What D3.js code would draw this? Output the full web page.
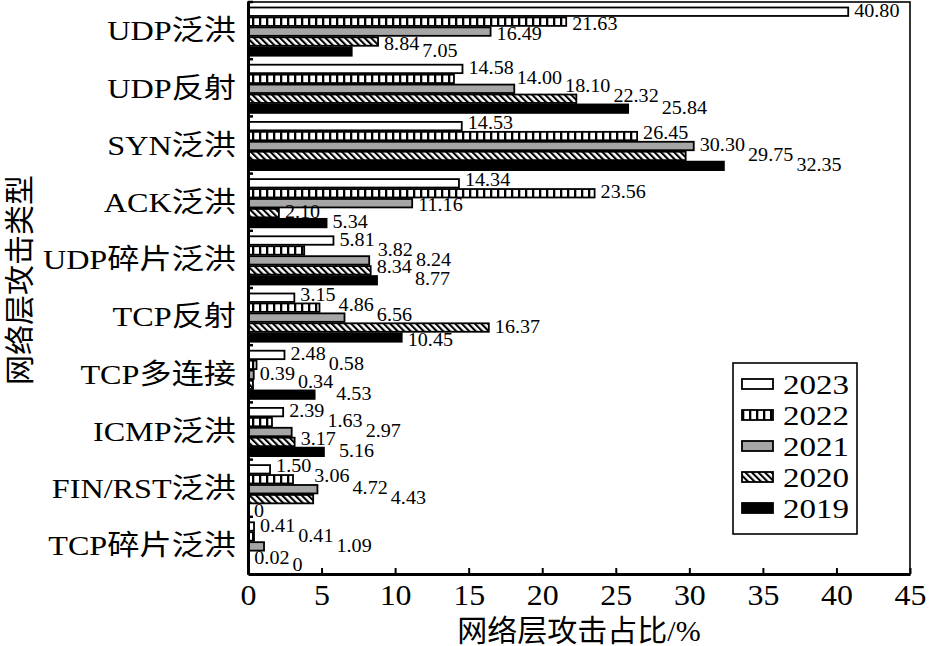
<!DOCTYPE html>
<html>
<head>
<meta charset="utf-8">
<script src="https://cdn.jsdelivr.net/npm/d3@7"></script>
<style>
body { margin: 0; background: #fff; }
text { font-family: "Liberation Serif", "Noto Sans CJK SC", serif; fill: #000; }
</style>
</head>
<body>
<svg id="chart" width="930" height="646"></svg>
<script>
// ---------------- data ----------------
var categories = ['UDP泛洪', 'UDP反射', 'SYN泛洪', 'ACK泛洪', 'UDP碎片泛洪', 'TCP反射', 'TCP多连接', 'ICMP泛洪', 'FIN/RST泛洪', 'TCP碎片泛洪']
var years = ['2023', '2022', '2021', '2020', '2019']
var v2023 = [40.80, 14.58, 14.53, 14.34, 5.81, 3.15, 2.48, 2.39, 1.50, 0.41]
var v2022 = [21.63, 14.00, 26.45, 23.56, 3.82, 4.86, 0.58, 1.63, 3.06, 0.41]
var v2021 = [16.49, 18.10, 30.30, 11.16, 8.24, 6.56, 0.39, 2.97, 4.72, 1.09]
var v2020 = [8.84, 22.32, 29.75, 2.10, 8.34, 16.37, 0.34, 3.17, 4.43, 0.02]
var v2019 = [7.05, 25.84, 32.35, 5.34, 8.77, 10.45, 4.53, 5.16, 0, 0]
var xTicks = [0, 5, 10, 15, 20, 25, 30, 35, 40, 45]
var xTitle = '网络层攻击占比/%'
var yTitle = '网络层攻击类型'

var series = [v2023, v2022, v2021, v2020, v2019]

// ---------------- layout ----------------
var plotL = 248, plotR = 910, plotT = 2, plotB = 574
var svg = d3.select('#chart')

var x = d3.scaleLinear().domain([0, 45]).range([plotL, plotR])
var y = d3.scaleBand().domain(categories).range([plotT, plotB])
var yInner = d3.scaleBand().domain(years).range([5.5, y.bandwidth() - 3.5]).paddingInner(0.15)

var fills = ['#ffffff', 'url(#vstripe)', '#a6a6a6', 'url(#hatch)', '#000000']

// patterns
var defs = svg.append('defs')
var vs = defs.append('pattern').attr('id', 'vstripe')
    .attr('patternUnits', 'userSpaceOnUse').attr('width', 7).attr('height', 10)
vs.append('rect').attr('width', 7).attr('height', 10).attr('fill', '#fff')
vs.append('rect').attr('x', 0).attr('width', 2.3).attr('height', 10).attr('fill', '#000')

var ht = defs.append('pattern').attr('id', 'hatch')
    .attr('patternUnits', 'userSpaceOnUse').attr('width', 4.6).attr('height', 4.6)
    .attr('patternTransform', 'rotate(-45)')
ht.append('rect').attr('width', 4.6).attr('height', 4.6).attr('fill', '#fff')
ht.append('rect').attr('x', 0).attr('width', 2.1).attr('height', 4.6).attr('fill', '#000')

// frame (thin top / right)
svg.append('rect')
    .attr('x', plotL).attr('y', plotT)
    .attr('width', plotR - plotL).attr('height', plotB - plotT)
    .attr('fill', 'none').attr('stroke', '#000').attr('stroke-width', 1.6)

// ---------------- bars ----------------
var rows = []
categories.forEach(function(c, ci) {
    years.forEach(function(yr, yi) {
        rows.push({cat: c, year: yr, yi: yi, value: series[yi][ci]})
    })
})
var barRows = rows.filter(function(d) { return d.value > 0 })

svg.append('g').selectAll('rect')
    .data(barRows)
    .join('rect')
    .attr('x', x(0))
    .attr('y', function(d) { return y(d.cat) + yInner(d.year) })
    .attr('width', function(d) { return x(d.value) - x(0) })
    .attr('height', yInner.bandwidth())
    .attr('fill', function(d) { return fills[d.yi] })
    .attr('stroke', '#000')
    .attr('stroke-width', 1.8)

// ---------------- value labels ----------------
// small vertical nudge away from neighbouring bars, then move right past
// any label that sits too close above
var sxVal = 1.06
var halfH = 6.5
var minGap = 14
var barBoxes = barRows.map(function(d) {
    var yb = y(d.cat) + yInner(d.year)
    return {x0: x(0), x1: x(d.value) + 0.9, y0: yb - 0.9, y1: yb + yInner.bandwidth() + 0.9}
})
var nudges = [0, 2, -2, 3, -3]

function barArea(x0, x1, yc) {
    var s = 0
    barBoxes.forEach(function(r) {
        var w = Math.min(r.x1, x1) - Math.max(r.x0, x0)
        var h = Math.min(r.y1, yc + halfH) - Math.max(r.y0, yc - halfH)
        if (w > 0 && h > 0) s += w * h
    })
    return s
}

var placed = []
var labelG = svg.append('g')
rows.forEach(function(d) {
    var txt = d.value === 0 ? '0' : d.value.toFixed(2)
    var base = y(d.cat) + yInner(d.year) + yInner.bandwidth() / 2 - 1.5
    var t = labelG.append('text')
        .attr('x', 0).attr('y', 0).attr('dy', '0.35em')
        .style('font-size', '19px')
        .text(txt)
    var w = t.node().getComputedTextLength() * sxVal
    var x0 = x(d.value) + 6
    var yc = base
    for (var k = 0; k < 20; k++) {
        var best = Infinity
        nudges.forEach(function(o) {
            var a = barArea(x0 + 1, x0 + w - 1, base + o)
            if (a < best - 0.01) { best = a; yc = base + o }
        })
        var hits = placed.filter(function(p) {
            return Math.abs(p.yc - yc) < minGap && x0 < p.x + p.w + 1 && x0 + w > p.x - 1
        })
        if (hits.length == 0) break
        x0 = d3.max(hits, function(p) { return p.x + p.w }) + 3
    }
    placed.push({x: x0, w: w, yc: yc})
    t.attr('transform', 'translate(' + x0 + ',' + yc + ') scale(' + sxVal + ',1)')
})

// ---------------- axes ----------------
var xAxis = d3.axisBottom(x).tickValues(xTicks).tickSizeInner(-6).tickSizeOuter(0).tickPadding(0)
var gx = svg.append('g').attr('transform', 'translate(0,' + plotB + ')').call(xAxis)
gx.select('.domain').attr('stroke-width', 3)
gx.selectAll('.tick line').attr('stroke-width', 2)
gx.selectAll('.tick text')
    .attr('y', 0).attr('dy', 0)
    .attr('transform', 'translate(0,31) scale(1.1,1)')
    .style('font-family', '"Liberation Serif", serif')
    .style('font-size', '29px')

var yAxis = d3.axisLeft(y).tickSize(0).tickPadding(0)
var gy = svg.append('g').attr('transform', 'translate(' + plotL + ',0)').call(yAxis)
gy.select('.domain').attr('stroke-width', 3)
gy.selectAll('.tick text')
    .attr('x', 0).attr('dy', '0.35em')
    .attr('transform', 'translate(-12,0) scale(1.15,1)')
    .style('font-family', '"Liberation Serif", "Noto Sans CJK SC", serif')
    .style('font-size', '28px')

// ticks on band boundaries, pointing inward
svg.append('g').selectAll('line')
    .data(categories)
    .join('line')
    .attr('x1', plotL).attr('x2', plotL + 5)
    .attr('y1', function(d) { return y(d) }).attr('y2', function(d) { return y(d) })
    .attr('stroke', '#000').attr('stroke-width', 2.5)

// titles
svg.append('text')
    .attr('x', (plotL + plotR) / 2).attr('y', 641)
    .attr('text-anchor', 'middle')
    .style('font-size', '30px')
    .text(xTitle)

svg.append('text')
    .attr('transform', 'translate(30,280) rotate(-90)')
    .attr('text-anchor', 'middle')
    .style('font-size', '30px')
    .text(yTitle)

// ---------------- legend ----------------
var lg = svg.append('g').attr('transform', 'translate(733,363)')
lg.append('rect').attr('width', 124).attr('height', 171)
    .attr('fill', '#fff').attr('stroke', '#000').attr('stroke-width', 1.6)
var item = lg.selectAll('g.item')
    .data(years)
    .join('g')
    .attr('class', 'item')
    .attr('transform', function(d, i) { return 'translate(9,' + (21 + i * 31) + ')' })
item.append('rect')
    .attr('y', -5).attr('width', 31).attr('height', 10)
    .attr('fill', function(d, i) { return fills[i] })
    .attr('stroke', '#000').attr('stroke-width', 1.8)
item.append('text')
    .attr('dy', '0.35em')
    .attr('transform', 'translate(41,0) scale(1.18,1)')
    .style('font-size', '28px')
    .text(function(d) { return d })
</script>
</body>
</html>
